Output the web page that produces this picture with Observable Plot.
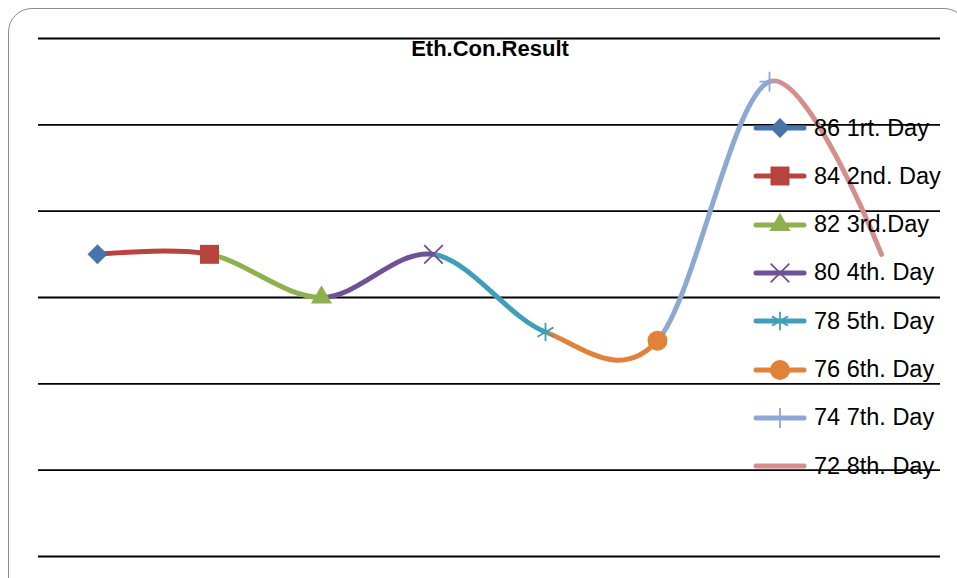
<!DOCTYPE html>
<html>
<head>
<meta charset="utf-8">
<script src="https://cdn.jsdelivr.net/npm/d3@7"></script>
<script src="https://cdn.jsdelivr.net/npm/@observablehq/plot@0.6"></script>
<style>
  html, body { margin: 0; padding: 0; background: #fff; overflow: hidden; }
  #wrap { position: relative; width: 957px; height: 578px; overflow: hidden; }
  #frame { position: absolute; left: 8px; top: 8px; width: 960px; height: 600px;
           border: 1.5px solid #8c8c8c; border-radius: 24px; box-sizing: border-box; }
  #chart { position: absolute; left: 0; top: 0; }
  #title { position: absolute; left: 0; width: 980px; top: 36px; line-height: 22px; text-align: center;
           font: bold 22px "Liberation Sans", Arial, sans-serif; color: #000; }
  #legend { position: absolute; left: 752px; top: 0; font: 23.5px "Liberation Sans", Arial, sans-serif; color: #000; }
  .row { position: absolute; left: 0; display: flex; align-items: center; white-space: nowrap; height: 26px; }
  .row svg { display: block; margin-right: 6px; }
</style>
</head>
<body>
<div id="wrap">
  <div id="frame"></div>
  <div id="chart"></div>
  <div id="title">Eth.Con.Result</div>
  <div id="legend"></div>
</div>
<script>
// ---- data ----
const days = ["1rt. Day", "2nd. Day", "3rd.Day", "4th. Day", "5th. Day", "6th. Day", "7th. Day", "8th. Day"];
const legendNumbers = [86, 84, 82, 80, 78, 76, 74, 72];
const values = [35, 35, 30, 35, 26, 25, 55, 35];
const yTicks = [0, 10, 20, 30, 40, 50, 60];
const colors = ["#4674ab", "#b8443f", "#8fb04f", "#6f5296", "#3f9fb8", "#e0823a", "#8ea8d2", "#d48f8d"];
const symbols = ["diamond2", "square", "triangle", "times", "asterisk", "circle", "plus", null];
const filled = [true, true, true, false, false, true, false, false];
const symbolR = [9, 10.7, 7.8, 8.5, 8.8, 10, 6.5, 0];

const data = days.map((d, i) => ({day: d, value: values[i]}));

const W = 957, H = 578;
const marks = [
  Plot.ruleY(yTicks, {stroke: "#000", strokeWidth: 1.8}),
  Plot.line(data, {x: "day", y: "value", curve: "cardinal", stroke: "#888", strokeWidth: 5, strokeLinecap: "round", strokeLinejoin: "round"})
];
data.forEach((d, i) => {
  if (!symbols[i]) return;
  marks.push(Plot.dot([d], {
    x: "day", y: "value", symbol: symbols[i], r: symbolR[i],
    fill: filled[i] ? colors[i] : "none",
    stroke: filled[i] ? "none" : colors[i],
    strokeWidth: filled[i] ? 0 : 1.8
  }));
});

const plot = Plot.plot({
  width: W, height: H,
  marginLeft: 38, marginRight: 17, marginTop: 38, marginBottom: 22,
  x: {type: "point", domain: days, padding: 0.5, axis: null},
  y: {domain: [0, 60], axis: null},
  style: {background: "transparent", overflow: "visible"},
  marks
});
document.getElementById("chart").appendChild(plot);

// colour each segment (between consecutive days) with the colour of the day it reaches
const xs = plot.scale("x");
const px = days.map(d => xs.apply(d));
const svg = d3.select(plot);
const defs = svg.insert("defs", ":first-child");
const grad = defs.append("linearGradient").attr("id", "segGrad")
  .attr("gradientUnits", "userSpaceOnUse").attr("x1", 0).attr("x2", W).attr("y1", 0).attr("y2", 0);
for (let i = 1; i < days.length; i++) {
  grad.append("stop").attr("offset", px[i - 1] / W).attr("stop-color", colors[i]);
  grad.append("stop").attr("offset", px[i] / W).attr("stop-color", colors[i]);
}
svg.selectAll("g[aria-label='line']").attr("stroke", "url(#segGrad)")
  .selectAll("path").attr("stroke", "url(#segGrad)");

// ---- legend ----
const legend = d3.select("#legend");
const symMap = {diamond2: d3.symbolDiamond2, square: d3.symbolSquare, triangle: d3.symbolTriangle,
  times: d3.symbolTimes, asterisk: d3.symbolAsterisk, circle: d3.symbolCircle, plus: d3.symbolPlus};
days.forEach((d, i) => {
  const row = legend.append("div").attr("class", "row").style("top", (115 + i * 48.3) + "px");
  const s = row.append("svg").attr("width", 56).attr("height", 26);
  s.append("line").attr("x1", 4).attr("x2", 52).attr("y1", 13).attr("y2", 13)
    .attr("stroke", colors[i]).attr("stroke-width", 5).attr("stroke-linecap", "round");
  if (symbols[i]) {
    s.append("path").attr("transform", "translate(28,13)")
      .attr("d", d3.symbol(symMap[symbols[i]], Math.PI * symbolR[i] * symbolR[i])())
      .attr("fill", filled[i] ? colors[i] : "none")
      .attr("stroke", filled[i] ? "none" : colors[i]).attr("stroke-width", 1.8);
  }
  row.append("span").text(legendNumbers[i] + " " + d);
});
</script>
</body>
</html>
